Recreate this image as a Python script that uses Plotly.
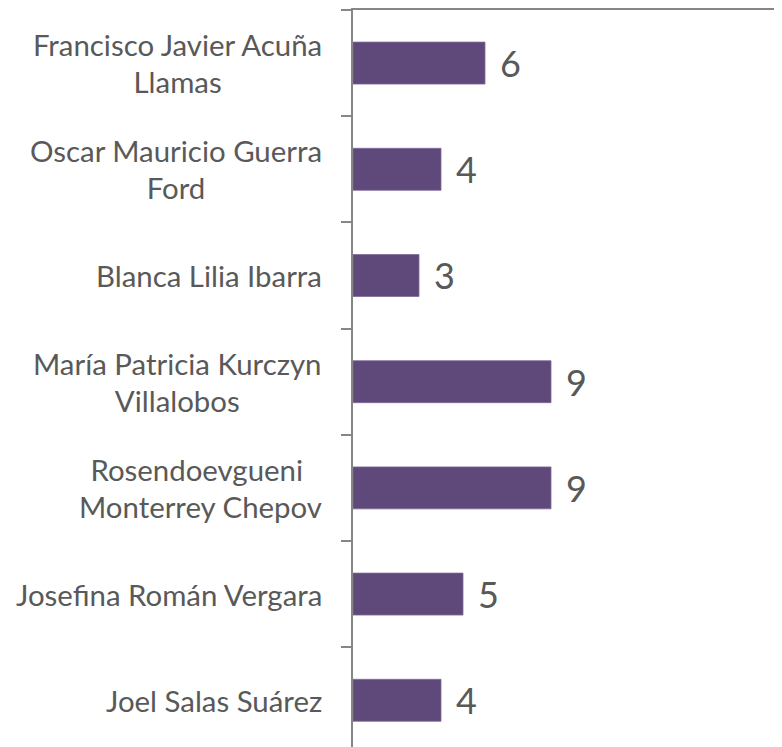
import plotly.graph_objects as go

names = ["Francisco Javier Acuña Llamas", "Oscar Mauricio Guerra Ford", "Blanca Lilia Ibarra",
         "María Patricia Kurczyn Villalobos", "Rosendoevgueni Monterrey Chepov",
         "Josefina Román Vergara", "Joel Salas Suárez"]
label_lines = [["Francisco Javier Acuña", "Llamas"], ["Oscar Mauricio Guerra", "Ford"],
               ["Blanca Lilia Ibarra"], ["María Patricia Kurczyn", "Villalobos"],
               ["Rosendoevgueni ", "Monterrey Chepov"], ["Josefina Román Vergara"],
               ["Joel Salas Suárez"]]
values = [6, 4, 3, 9, 9, 5, 4]

FONT = "Lato"
TXT = "#595959"
AX = "#868686"
BAR = "#5F497A"

fig = go.Figure(go.Bar(
    x=values, y=names, orientation="h", width=0.395,
    marker=dict(color=BAR, line=dict(color="#7E6A99", width=0.8)),
    hoverinfo="skip",
))

for n, v in zip(names, values):
    fig.add_annotation(x=v, y=n, xref="x", yref="y", text=str(v), showarrow=False,
                       xanchor="left", yanchor="middle", xshift=13,
                       font=dict(family=FONT, size=36, color=TXT))

for n, lines in zip(names, label_lines):
    txt = "<br>".join(f"<span style='font-size:29.4px'>{l}</span>" for l in lines)
    fig.add_annotation(x=0, y=n, xref="paper", yref="y", text=txt, showarrow=False,
                       xanchor="right", yanchor="middle", align="center", xshift=-29,
                       font=dict(family=FONT, size=28.2, color=TXT))

fig.update_layout(
    width=774, height=739,
    margin=dict(l=345, r=0, t=2, b=0),
    paper_bgcolor="white", plot_bgcolor="white",
    showlegend=False,
    xaxis=dict(range=[0, 19.5], side="top", showline=True, linecolor=AX, linewidth=1.5,
               showgrid=False, zeroline=False, showticklabels=False, ticks=""),
    yaxis=dict(type="category", categoryorder="array", categoryarray=names,
               range=[6.44, -0.5], showline=True, linecolor=AX, linewidth=1.5,
               ticks="outside", tickson="boundaries", ticklen=10, tickcolor=AX, tickwidth=1.5,
               showticklabels=False, showgrid=False, zeroline=False),
)

fig.write_html("out.html")
